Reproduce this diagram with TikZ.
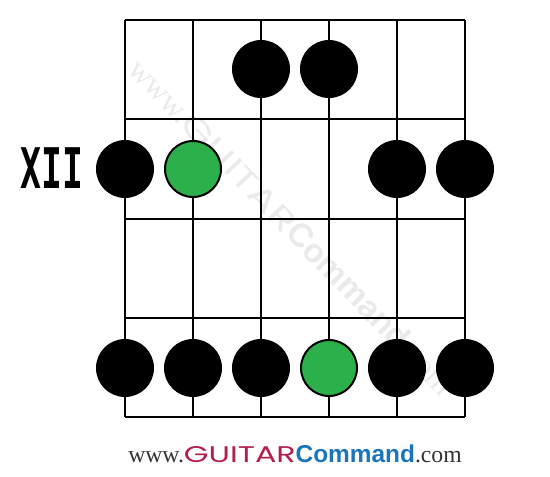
\documentclass[tikz,border=0pt]{standalone}
\usepackage{fontspec}
\setmainfont{Liberation Serif}
\newfontfamily\monofnt{DejaVu Sans Mono}
\newfontfamily\arialfnt{Liberation Sans}
\newfontfamily\geofnt{Poppins}
\definecolor{dotgreen}{RGB}{44,176,75}
\definecolor{gcred}{RGB}{180,30,75}
\definecolor{gcblue}{RGB}{27,117,188}
\definecolor{gcgray}{RGB}{51,51,51}
\definecolor{wmgray}{RGB}{234,234,234}
\newcommand{\gclogo}[3]{{\color{#1}\fontsize{23}{23}\selectfont www.}{\color{#2}\geofnt\fontsize{22}{23}\selectfont\scalebox{1.4}[1]{GUITAR}}{\color{#3}\arialfnt\bfseries\fontsize{23.7}{24}\selectfont Command}{\color{#1}\fontsize{23}{23}\selectfont .com}}
\tikzset{
  gridline/.style={line width=2.5pt, black},
  blackdot/.style={circle, fill=black, minimum size=58pt, inner sep=0pt},
  greendot/.style={circle, fill=dotgreen, draw=black, line width=2pt, minimum size=56pt, inner sep=0pt},
}
\begin{document}
\begin{tikzpicture}[x=1pt,y=-1pt]
\useasboundingbox (0,0) rectangle (550,477);
% watermark
\node[text=wmgray, rotate=-46, scale=1.4, inner sep=0pt] (wm) at (292,226) {\gclogo{wmgray}{wmgray}{wmgray}};
% grid
\foreach \x in {125,193,261,329,397,465} \draw[gridline] (\x,20) -- (\x,417);
\foreach \y in {20,119,219,318,417} \draw[gridline] (125,\y) -- (465,\y);
% dots
\node[blackdot] (d11) at (261,69) {};
\node[blackdot] (d12) at (329,69) {};
\node[blackdot] (d21) at (125,169) {};
\node[greendot] (d22) at (193,169) {};
\node[blackdot] (d23) at (397,169) {};
\node[blackdot] (d24) at (465,169) {};
\node[blackdot] (d31) at (125,368) {};
\node[blackdot] (d32) at (193,368) {};
\node[blackdot] (d33) at (261,368) {};
\node[greendot] (d34) at (329,368) {};
\node[blackdot] (d35) at (397,368) {};
\node[blackdot] (d36) at (465,368) {};
% fret label
\node[inner sep=0pt, xscale=0.62] (fret) at (52,168) {\monofnt\bfseries\fontsize{56}{56}\selectfont XII};
% footer
\node[anchor=base, inner sep=0pt, scale=1.03] (logo) at (295,462) {\gclogo{gcgray}{gcred}{gcblue}};
\end{tikzpicture}
\end{document}
